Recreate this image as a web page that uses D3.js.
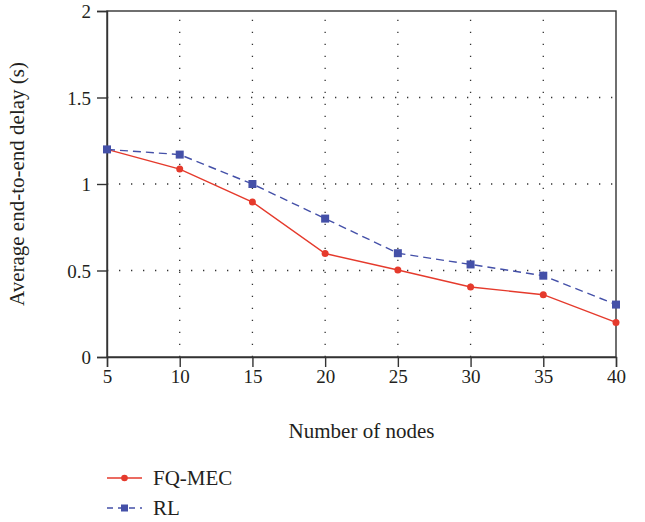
<!DOCTYPE html>
<html>
<head>
<meta charset="utf-8">
<script src="https://cdn.jsdelivr.net/npm/d3@7"></script>
<style>
  body { margin: 0; background: #fff; }
  text { font-family: "Liberation Serif", "DejaVu Serif", serif; fill: #231f20; }
</style>
</head>
<body>
<div id="chart"></div>
<script>
const nodes = [5, 10, 15, 20, 25, 30, 35, 40];
const fqMec = [1.2, 1.086, 0.896, 0.598, 0.503, 0.405, 0.36, 0.2];
const rl = [1.2, 1.17, 1.0, 0.8, 0.6, 0.535, 0.47, 0.303];
const yTicks = [0, 0.5, 1, 1.5, 2];
const seriesNames = ["FQ-MEC", "RL"];

const width = 645, height = 522;
const margin = {top: 11, right: 29, bottom: 165, left: 107};
const w = width - margin.left - margin.right;
const h = height - margin.top - margin.bottom;

const svg = d3.select("#chart").append("svg")
    .attr("width", width)
    .attr("height", height);

const g = svg.append("g")
    .attr("transform", "translate(" + margin.left + "," + margin.top + ")");

const x = d3.scaleLinear().domain([5, 40]).range([0, w]);
const y = d3.scaleLinear().domain([0, 2]).range([h, 0]);

// dotted grid
g.selectAll(".hgrid").data([0.5, 1, 1.5]).enter().append("line")
    .attr("x1", 0).attr("x2", w)
    .attr("y1", d => y(d)).attr("y2", d => y(d))
    .attr("stroke", "#333").attr("stroke-width", 1.3)
    .attr("stroke-dasharray", "1.3,10.7");
g.selectAll(".vgrid").data(nodes.slice(1, -1)).enter().append("line")
    .attr("x1", d => x(d)).attr("x2", d => x(d))
    .attr("y1", h).attr("y2", 0)
    .attr("stroke", "#333").attr("stroke-width", 1.3)
    .attr("stroke-dasharray", "1.3,10.7");

// frame
g.append("rect")
    .attr("width", w).attr("height", h)
    .attr("fill", "none").attr("stroke", "#333").attr("stroke-width", 1.4);

// axes
const xAxis = g.append("g")
    .attr("transform", "translate(0," + h + ")")
    .call(d3.axisBottom(x).tickValues(nodes).tickSize(10).tickPadding(3));
const yAxis = g.append("g")
    .call(d3.axisLeft(y).tickValues(yTicks).tickSize(10).tickPadding(6)
        .tickFormat(d3.format("")));
[xAxis, yAxis].forEach(a => {
    a.select(".domain").attr("stroke", "#333").attr("stroke-width", 1.4);
    a.selectAll(".tick line").attr("stroke", "#333").attr("stroke-width", 1.4);
    a.selectAll("text").style("font-size", "19px").attr("fill", "#231f20");
});
yAxis.selectAll(".tick text").attr("dy", "0.35em");

// axis titles
svg.append("text")
    .attr("x", margin.left + w / 2).attr("y", 438)
    .attr("text-anchor", "middle")
    .style("font-size", "21px")
    .text("Number of nodes");
svg.append("text")
    .attr("transform", "translate(24," + (margin.top + h / 2) + ") rotate(-90)")
    .attr("text-anchor", "middle")
    .style("font-size", "21px")
    .text("Average end-to-end delay (s)");

// series
const series = [
    {name: seriesNames[0], values: fqMec, color: "#e53a2c", dash: null, shape: "circle"},
    {name: seriesNames[1], values: rl, color: "#4450a8", dash: "8,5", shape: "square"}
];
const line = d3.line().x((d, i) => x(nodes[i])).y(d => y(d));

series.forEach(s => {
    g.append("path")
        .datum(s.values)
        .attr("d", line)
        .attr("fill", "none")
        .attr("stroke", s.color)
        .attr("stroke-width", 1.4)
        .attr("stroke-dasharray", s.dash);
    if (s.shape === "circle") {
        g.selectAll(".pt-c").data(s.values).enter().append("circle")
            .attr("cx", (d, i) => x(nodes[i])).attr("cy", d => y(d))
            .attr("r", 3.5).attr("fill", s.color);
    } else {
        g.selectAll(".pt-s").data(s.values).enter().append("rect")
            .attr("x", (d, i) => x(nodes[i]) - 4).attr("y", d => y(d) - 4)
            .attr("width", 8).attr("height", 8).attr("fill", s.color);
    }
});

// legend
const legend = svg.append("g").attr("transform", "translate(107,478)");
series.forEach((s, i) => {
    const row = legend.append("g").attr("transform", "translate(0," + i * 30 + ")");
    row.append("line")
        .attr("x1", 0).attr("x2", 35)
        .attr("stroke", s.color).attr("stroke-width", 1.4)
        .attr("stroke-dasharray", s.dash ? "6,5" : null);
    if (s.shape === "circle") {
        row.append("circle").attr("cx", 17.5).attr("r", 3.3).attr("fill", s.color);
    } else {
        row.append("rect").attr("x", 14).attr("y", -3.5)
            .attr("width", 7).attr("height", 7).attr("fill", s.color);
    }
    row.append("text")
        .attr("x", 46).attr("y", 0).attr("dy", "0.35em")
        .style("font-size", "21px")
        .text(s.name);
});
</script>
</body>
</html>
